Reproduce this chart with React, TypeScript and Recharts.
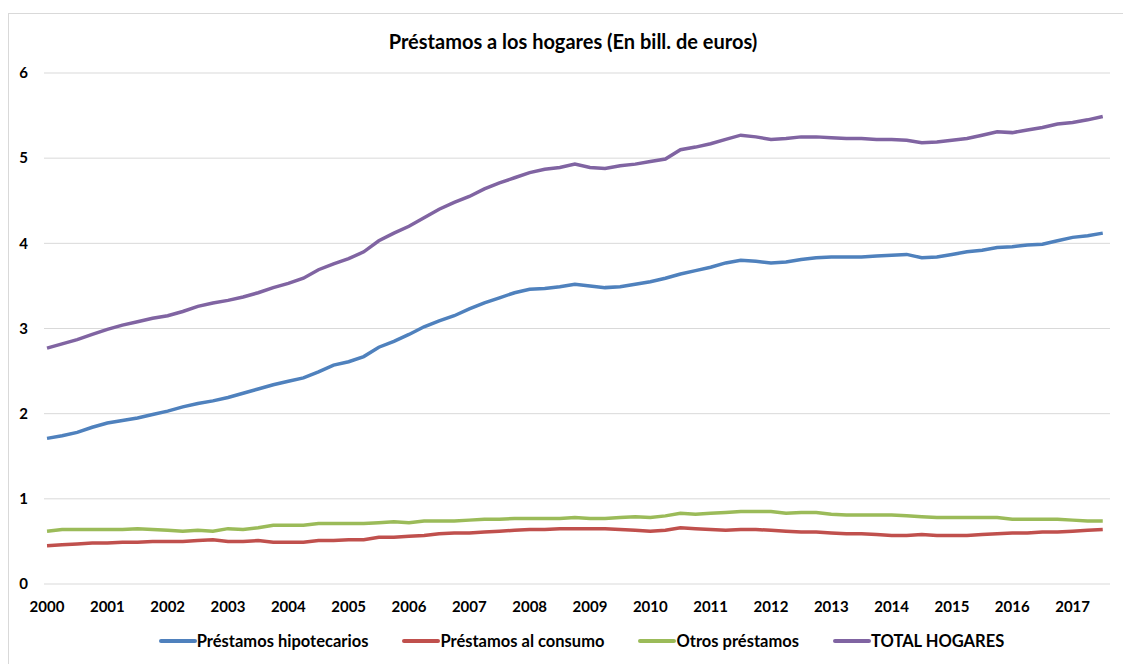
import React from "react";
import { LineChart, Line, XAxis, YAxis, CartesianGrid, Legend } from "recharts";

// Trimestres (año decimal) desde 2000 hasta mediados de 2017
const periodos = [
  2000.0, 2000.25, 2000.5, 2000.75, 2001.0, 2001.25, 2001.5, 2001.75,
  2002.0, 2002.25, 2002.5, 2002.75, 2003.0, 2003.25, 2003.5, 2003.75,
  2004.0, 2004.25, 2004.5, 2004.75, 2005.0, 2005.25, 2005.5, 2005.75,
  2006.0, 2006.25, 2006.5, 2006.75, 2007.0, 2007.25, 2007.5, 2007.75,
  2008.0, 2008.25, 2008.5, 2008.75, 2009.0, 2009.25, 2009.5, 2009.75,
  2010.0, 2010.25, 2010.5, 2010.75, 2011.0, 2011.25, 2011.5, 2011.75,
  2012.0, 2012.25, 2012.5, 2012.75, 2013.0, 2013.25, 2013.5, 2013.75,
  2014.0, 2014.25, 2014.5, 2014.75, 2015.0, 2015.25, 2015.5, 2015.75,
  2016.0, 2016.25, 2016.5, 2016.75, 2017.0, 2017.25, 2017.5,
];

const hipotecarios = [
  1.71, 1.74, 1.78, 1.84, 1.89, 1.92, 1.95, 1.99,
  2.03, 2.08, 2.12, 2.15, 2.19, 2.24, 2.29, 2.34,
  2.38, 2.42, 2.49, 2.57, 2.61, 2.67, 2.78, 2.85,
  2.93, 3.02, 3.09, 3.15, 3.23, 3.3, 3.36, 3.42,
  3.46, 3.47, 3.49, 3.52, 3.5, 3.48, 3.49, 3.52,
  3.55, 3.59, 3.64, 3.68, 3.72, 3.77, 3.8, 3.79,
  3.77, 3.78, 3.81, 3.83, 3.84, 3.84, 3.84, 3.85,
  3.86, 3.87, 3.83, 3.84, 3.87, 3.9, 3.92, 3.95,
  3.96, 3.98, 3.99, 4.03, 4.07, 4.09, 4.12,
];

const consumo = [
  0.45, 0.46, 0.47, 0.48, 0.48, 0.49, 0.49, 0.5,
  0.5, 0.5, 0.51, 0.52, 0.5, 0.5, 0.51, 0.49,
  0.49, 0.49, 0.51, 0.51, 0.52, 0.52, 0.55, 0.55,
  0.56, 0.57, 0.59, 0.6, 0.6, 0.61, 0.62, 0.63,
  0.64, 0.64, 0.65, 0.65, 0.65, 0.65, 0.64, 0.63,
  0.62, 0.63, 0.66, 0.65, 0.64, 0.63, 0.64, 0.64,
  0.63, 0.62, 0.61, 0.61, 0.6, 0.59, 0.59, 0.58,
  0.57, 0.57, 0.58, 0.57, 0.57, 0.57, 0.58, 0.59,
  0.6, 0.6, 0.61, 0.61, 0.62, 0.63, 0.64,
];

const otros = [
  0.62, 0.64, 0.64, 0.64, 0.64, 0.64, 0.65, 0.64,
  0.63, 0.62, 0.63, 0.62, 0.65, 0.64, 0.66, 0.69,
  0.69, 0.69, 0.71, 0.71, 0.71, 0.71, 0.72, 0.73,
  0.72, 0.74, 0.74, 0.74, 0.75, 0.76, 0.76, 0.77,
  0.77, 0.77, 0.77, 0.78, 0.77, 0.77, 0.78, 0.79,
  0.78, 0.8, 0.83, 0.82, 0.83, 0.84, 0.85, 0.85,
  0.85, 0.83, 0.84, 0.84, 0.82, 0.81, 0.81, 0.81,
  0.81, 0.8, 0.79, 0.78, 0.78, 0.78, 0.78, 0.78,
  0.76, 0.76, 0.76, 0.76, 0.75, 0.74, 0.74,
];

const total = [
  2.77, 2.82, 2.87, 2.93, 2.99, 3.04, 3.08, 3.12,
  3.15, 3.2, 3.26, 3.3, 3.33, 3.37, 3.42, 3.48,
  3.53, 3.59, 3.69, 3.76, 3.82, 3.9, 4.03, 4.12,
  4.2, 4.3, 4.4, 4.48, 4.55, 4.64, 4.71, 4.77,
  4.83, 4.87, 4.89, 4.93, 4.89, 4.88, 4.91, 4.93,
  4.96, 4.99, 5.1, 5.13, 5.17, 5.22, 5.27, 5.25,
  5.22, 5.23, 5.25, 5.25, 5.24, 5.23, 5.23, 5.22,
  5.22, 5.21, 5.18, 5.19, 5.21, 5.23, 5.27, 5.31,
  5.3, 5.33, 5.36, 5.4, 5.42, 5.45, 5.49,
];

const anios = [
  2000, 2001, 2002, 2003, 2004, 2005, 2006, 2007, 2008,
  2009, 2010, 2011, 2012, 2013, 2014, 2015, 2016, 2017,
];

const valoresY = [0, 1, 2, 3, 4, 5, 6];

const series = [
  { key: "hipotecarios", name: "Préstamos hipotecarios", color: "#4F81BD" },
  { key: "consumo", name: "Préstamos al consumo", color: "#C0504D" },
  { key: "otros", name: "Otros préstamos", color: "#9BBB59" },
  { key: "total", name: "TOTAL HOGARES", color: "#8064A2" },
];

const data = periodos.map((t, i) => ({
  t,
  hipotecarios: hipotecarios[i],
  consumo: consumo[i],
  otros: otros[i],
  total: total[i],
}));

const FONT = "Lato, 'Open Sans', sans-serif";
const tickStyle = { fill: "#000", fontSize: 15, fontWeight: 700, fontFamily: FONT };

function Leyenda() {
  return (
    <div
      style={{
        display: "flex",
        justifyContent: "center",
        alignItems: "center",
        gap: 34,
        paddingLeft: 23,
        fontFamily: FONT,
        fontWeight: 700,
        fontSize: 16.5,
        color: "#000",
      }}
    >
      {series.map((s) => (
        <div key={s.key} style={{ display: "flex", alignItems: "center" }}>
          <span
            style={{
              display: "inline-block",
              width: 38,
              height: 4,
              borderRadius: 2,
              background: s.color,
            }}
          />
          <span>{s.name}</span>
        </div>
      ))}
    </div>
  );
}

export default function App() {
  return (
    <div style={{ paddingTop: 5 }}>
      <div
        style={{
          position: "relative",
          width: 1130,
          height: 660,
          borderLeft: "1px solid #D9D9D9",
          borderTop: "1px solid #D9D9D9",
          background: "#fff",
        }}
      >
        <div
          style={{
            position: "absolute",
            top: 15,
            left: 3,
            width: 1122,
            textAlign: "center",
            fontFamily: FONT,
            fontWeight: 700,
            fontSize: 20,
            color: "#000",
          }}
        >
          Préstamos a los hogares (En bill. de euros)
        </div>
        <LineChart
          width={1122}
          height={650}
          data={data}
          margin={{ top: 59, right: 21, bottom: 50, left: 0 }}
        >
          <CartesianGrid stroke="#D9D9D9" strokeWidth={1} vertical={false} />
          <XAxis
            dataKey="t"
            type="number"
            domain={[1999.95, 2017.62]}
            ticks={anios}
            allowDataOverflow
            axisLine={false}
            tickLine={false}
            tickSize={0}
            tickMargin={17}
            height={30}
            interval={0}
            tick={tickStyle}
          />
          <YAxis
            type="number"
            domain={[0, 6]}
            ticks={valoresY}
            axisLine={false}
            tickLine={false}
            tickSize={0}
            tickMargin={16}
            width={35}
            tick={tickStyle}
          />
          <Legend
            verticalAlign="middle"
            align="center"
            layout="horizontal"
            wrapperStyle={{ top: 617, left: 0, width: 1122 }}
            content={() => <Leyenda />}
          />
          {series.map((s) => (
            <Line
              key={s.key}
              dataKey={s.key}
              name={s.name}
              type="linear"
              stroke={s.color}
              strokeWidth={3.5}
              dot={false}
              isAnimationActive={false}
            />
          ))}
        </LineChart>
      </div>
    </div>
  );
}
